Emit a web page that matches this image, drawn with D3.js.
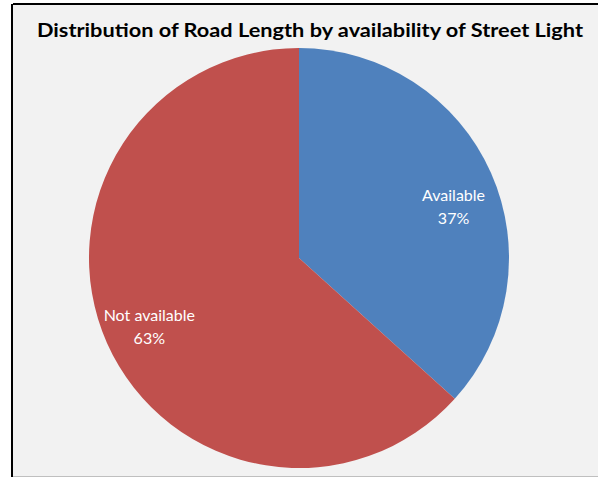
<!DOCTYPE html>
<html>
<head>
<meta charset="utf-8">
<script src="https://cdn.jsdelivr.net/npm/d3@7"></script>
<style>
  body { margin: 0; background: #ffffff; }
  svg { display: block; }
</style>
</head>
<body>
<script>
//chart data
var categories = ["Available", "Not available"];
var shares = [36.7, 63.3];
var labels = ["37%", "63%"];
var colors = ["#4f81bd", "#c0504d"];

var w = 598, h = 477;

var svg = d3.select("body").append("svg")
    .attr("width", w)
    .attr("height", h);

//chart area background
svg.append("rect")
    .attr("x", 13).attr("y", 5)
    .attr("width", w - 13).attr("height", h - 5)
    .style("fill", "#f2f2f2");

//frame lines
svg.append("line")
    .attr("x1", 13).attr("y1", 4).attr("x2", w).attr("y2", 4)
    .style("stroke", "#000").style("stroke-width", 2);
svg.append("line")
    .attr("x1", 12).attr("y1", 4).attr("x2", 12).attr("y2", h)
    .style("stroke", "#000").style("stroke-width", 2);
svg.append("line")
    .attr("x1", 13).attr("y1", 476.5).attr("x2", w).attr("y2", 476.5)
    .style("stroke", "#bfbfbf").style("stroke-width", 1);

//title
svg.append("text")
    .attr("x", 310)
    .attr("y", 37)
    .attr("text-anchor", "middle")
    .attr("textLength", 546)
    .attr("lengthAdjust", "spacingAndGlyphs")
    .style("font-family", "Lato, 'Open Sans', sans-serif")
    .style("font-weight", "bold")
    .style("font-size", "18px")
    .style("fill", "#000")
    .text("Distribution of Road Length by availability of Street Light");

//pie
var cx = 299, cy = 258, r = 210;
var data = categories.map(function (c, i) {
    return { name: c, value: shares[i], label: labels[i], color: colors[i] };
});

var pie = d3.pie()
    .sort(null)
    .value(function (d) { return d.value; });

var arc = d3.arc().innerRadius(0).outerRadius(r);
var labelArc = d3.arc().innerRadius(r * 0.78).outerRadius(r * 0.78);

var g = svg.append("g")
    .attr("transform", "translate(" + cx + "," + cy + ")");

var slices = g.selectAll(".slice")
    .data(pie(data))
    .enter()
    .append("path")
    .attr("class", "slice")
    .attr("d", arc)
    .style("fill", function (d) { return d.data.color; });

//slice labels
var sliceLabels = g.selectAll(".sliceLabel")
    .data(pie(data))
    .enter()
    .append("text")
    .attr("class", "sliceLabel")
    .attr("text-anchor", "middle")
    .attr("transform", function (d) {
        //nudge the first label a little further round, as excel does
        var mid = (d.startAngle + d.endAngle) / 2 + (d.index === 0 ? 0.08 : 0);
        var c = d3.pointRadial(mid, r * 0.78);
        return "translate(" + c[0] + "," + c[1] + ")";
    })
    .style("font-family", "Lato, 'Open Sans', sans-serif")
    .style("font-size", "16px")
    .style("fill", "#ffffff");

sliceLabels.append("tspan")
    .attr("x", 0)
    .attr("dy", "-0.2em")
    .text(function (d) { return d.data.name; });

sliceLabels.append("tspan")
    .attr("x", 0)
    .attr("dy", "1.45em")
    .text(function (d) { return d.data.label; });
</script>
</body>
</html>
